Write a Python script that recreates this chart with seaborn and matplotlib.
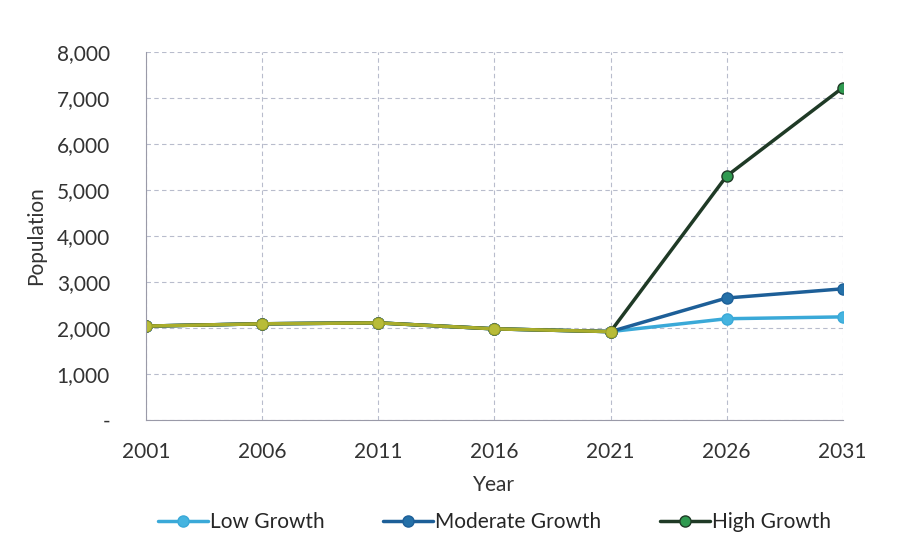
import pandas as pd
import seaborn as sns
import matplotlib.pyplot as plt
from matplotlib.ticker import FuncFormatter

# Dados
anos = [2001, 2006, 2011, 2016, 2021, 2026, 2031]
historico = [2040, 2090, 2110, 1980, 1920]
baixo = [2040, 2090, 2110, 1980, 1920, 2200, 2240]
moderado = [2040, 2090, 2110, 1980, 1920, 2650, 2850]
alto = [2040, 2090, 2110, 1980, 1920, 5300, 7220]

series = ["Low Growth", "Moderate Growth", "High Growth"]
dados = pd.DataFrame({
    "Year": anos * 3,
    "Population": baixo + moderado + alto,
    "Scenario": [s for s in series for _ in anos],
})
hist = pd.DataFrame({"Year": anos[:5], "Population": historico})

sns.set_style("white")
plt.rcParams["font.family"] = ["Lato", "DejaVu Sans"]

fig = plt.figure(figsize=(9.19, 5.57), dpi=100)
ax = fig.add_axes([0.159, 0.246, 0.758, 0.661])

linhas = {"Low Growth": "#3aa9d8", "Moderate Growth": "#1d5f98", "High Growth": "#1f3a26"}
marcadores = {"Low Growth": "#45b4e0", "Moderate Growth": "#2470a8", "High Growth": "#2f9a50"}

for s in series:
    d = dados[dados["Scenario"] == s]
    sns.lineplot(data=d, x="Year", y="Population", ax=ax, color=linhas[s], lw=2.5,
                 marker="o", markersize=8, markerfacecolor=marcadores[s],
                 markeredgecolor=linhas[s], markeredgewidth=1, label=s)

# trecho historico (sobreposto)
sns.lineplot(data=hist, x="Year", y="Population", ax=ax, color="#a9ad2c", lw=2.5,
             marker="o", markersize=8, markerfacecolor="#b8bc38",
             markeredgecolor="#9ea22a", legend=False)

ax.set_xlim(2001, 2031)
ax.set_ylim(0, 8000)
ax.set_xticks(anos)
ax.set_yticks(range(0, 8001, 1000))
ax.yaxis.set_major_formatter(FuncFormatter(lambda v, p: "-" if v == 0 else f"{int(v):,}"))
ax.grid(True, color="#b8bccc", linestyle=(0, (4, 3)), lw=0.8)
for lado in ["top", "right"]:
    ax.spines[lado].set_visible(False)
for lado in ["left", "bottom"]:
    ax.spines[lado].set_color("#9a9aa8")
    ax.spines[lado].set_linewidth(0.8)
ax.tick_params(labelsize=15, colors="#333333", length=0)
ax.tick_params(axis="y", pad=26)
ax.tick_params(axis="x", pad=16)
ax.set_xlabel("Year", fontsize=15, color="#333333", labelpad=9)
ax.set_ylabel("Population", fontsize=15, color="#333333", labelpad=8)

ax.legend(loc="upper center", bbox_to_anchor=(0.5, -0.2), ncol=3, frameon=False,
          fontsize=15, handlelength=2.4, handletextpad=0.1, columnspacing=2.8,
          markerscale=1.0)

plt.savefig("out.png", dpi=100)
